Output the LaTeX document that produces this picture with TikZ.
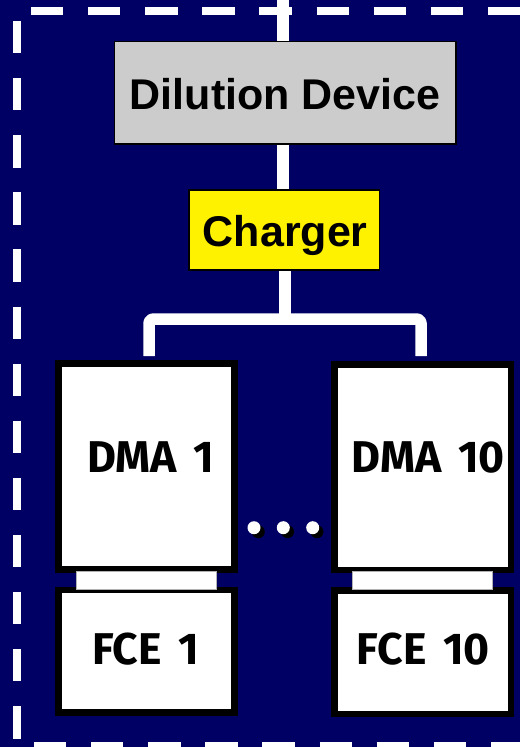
\documentclass[tikz,border=0pt]{standalone}
\usepackage{fontspec}
\setmainfont{Liberation Sans}
\newfontfamily\dmafont[WordSpace=1.6]{Fira Sans}
\definecolor{navybg}{RGB}{0,0,100}
\definecolor{boxgray}{RGB}{204,204,204}
\begin{document}
\begin{tikzpicture}[x=1pt,y=-1pt,
  frameline/.style={white,line width=8pt,dash pattern=on 32.3pt off 24.8pt},
  wire/.style={white,line width=11.5pt},
  topbox/.style={draw=black,line width=1.5pt,inner sep=0pt},
  unitbox/.style={draw=black,fill=white,line width=6.5pt,inner sep=0pt},
  bar/.style={fill=white,draw=gray!60,line width=0.5pt,inner sep=0pt},
  toptext/.style={font=\bfseries\fontsize{43}{43}\selectfont,anchor=base,inner sep=0pt},
  unittext/.style={font=\dmafont\bfseries\fontsize{44.5}{44.5}\selectfont,anchor=base,inner sep=0pt}]
\useasboundingbox (0,0) rectangle (520,747);
\fill[navybg] (0,0) rectangle (520,747);
% dashed frame
\coordinate (ft1) at (31,11);  \coordinate (ft2) at (540,11);
\coordinate (fl1) at (16.5,21); \coordinate (fl2) at (16.5,760);
\coordinate (fb1) at (34,745.5); \coordinate (fb2) at (540,745.5);
\draw[frameline] (ft1) -- (ft2);
\draw[frameline] (fl1) -- (fl2);
\draw[frameline] (fb1) -- (fb2);
% boxes
\node[topbox,fill=boxgray,minimum width=341.7pt,minimum height=102.7pt] (dil) at (285.2,92.7) {};
\node[toptext] (diltxt) at (285.2,109.3) {Dilution Device};
\node[topbox,fill=yellow,minimum width=190.3pt,minimum height=80pt] (chg) at (284.2,230) {};
\node[toptext] (chgtxt) at (285.3,246.7) {Charger};
% wires
\coordinate (top) at (283,-6);
\coordinate (fork) at (285,319);
\coordinate (ltop) at (149,356);
\coordinate (rtop) at (421,356);
\draw[wire] (top) -- (dil.north -| top);
\draw[wire] (dil.south -| top) -- (chg.north -| top);
\draw[wire] (chg.south -| fork) -- (fork);
\draw[wire,rounded corners=4pt,line join=round] (ltop) |- (fork) -| (rtop);
% units
\node[unitbox,minimum width=176.2pt,minimum height=206pt] (dma1) at (146.4,466.3) {};
\node[unitbox,minimum width=176.6pt,minimum height=205.6pt] (dma10) at (422.6,467.2) {};
\node[unitbox,minimum width=176.2pt,minimum height=122.7pt] (fce1) at (146.4,651.3) {};
\node[unitbox,minimum width=176.6pt,minimum height=123.3pt] (fce10) at (422.6,652.3) {};
\node[bar,minimum width=140pt,minimum height=18pt] (bar1) at (146.7,580) {};
\node[bar,minimum width=140pt,minimum height=18pt] (bar10) at (422.7,580) {};
\node[unittext] (t1) at (150.7,472.7) {DMA 1};
\node[unittext] (t2) at (428.3,472.7) {DMA 10};
\node[unittext] (t3) at (145.8,664) {FCE 1};
\node[unittext] (t4) at (423.3,664) {FCE 10};
% dots
\foreach \i/\xx in {1/254,2/283.3,3/312.7}{
  \fill[black] (\xx+4.3,531.7) circle (6.5pt);
  \node[circle,fill=white,inner sep=0pt,minimum size=13pt] (dot\i) at (\xx,527.7) {};
}
\end{tikzpicture}
\end{document}
